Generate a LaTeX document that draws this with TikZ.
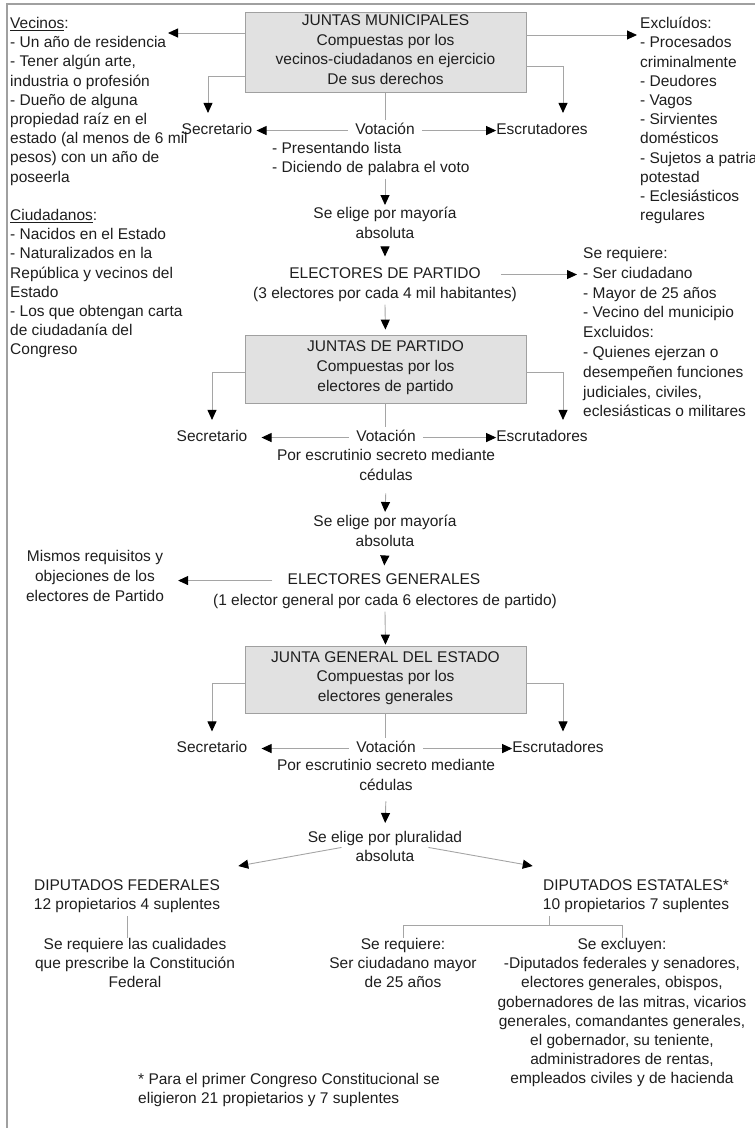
\documentclass[tikz,border=0pt]{standalone}
\usepackage{fontspec}
\setmainfont{Liberation Sans}
\usetikzlibrary{arrows.meta}
\definecolor{txtgray}{RGB}{30,30,30}
\definecolor{boxfill}{RGB}{225,225,225}
\definecolor{boxline}{RGB}{160,160,160}
\definecolor{linegray}{RGB}{165,165,165}
\newcommand{\diagfont}{\fontsize{15.5}{19.8}\selectfont}
\newcommand{\listfont}{\fontsize{15.5}{19.2}\selectfont}
\tikzset{
  txt/.style={font=\diagfont, text=txtgray, inner sep=0pt, align=center,
              execute at begin node=\strut},
  lst/.style={txt, align=left, anchor=north west},
  col/.style={txt, anchor=north},
  lbl/.style={txt, anchor=base},
  junta/.style={draw=boxline, fill=boxfill, line width=0.8pt, minimum width=281pt,
                align=center, font=\diagfont, text=txtgray, inner sep=0pt,
                execute at begin node=\strut},
  link/.style={draw=linegray, line width=0.9pt},
  arr/.style={link, -{Triangle[length=10pt, width=9pt, color=black]}},
  frame/.style={draw=boxline, line width=1.3pt}
}
\begin{document}
\begin{tikzpicture}[x=1pt, y=-1pt]
  \useasboundingbox (0,0) rectangle (755,1128);
  \draw[frame] (7,1128) -- (7,4) -- (755,4);

  % juntas municipales
  \node[junta, minimum height=80pt] (jm) at (385.5,52.5)
    {JUNTAS MUNICIPALES\\Compuestas por los\\vecinos-ciudadanos en ejercicio\\De sus derechos};
  \node[lst, font=\listfont] (vecinos) at (10,17) {\underline{Vecinos}:\\- Un año de residencia\\- Tener algún arte,\\industria o profesión\\- Dueño de alguna\\propiedad raíz en el\\estado (al menos de 6 mil\\pesos) con un año de\\poseerla};
  \node[lst, font=\listfont] (ciudad) at (10,209) {\underline{Ciudadanos}:\\- Nacidos en el Estado\\- Naturalizados en la\\República y vecinos del\\Estado\\- Los que obtengan carta\\de ciudadanía del\\Congreso};
  \node[lst, font=\listfont] (excl) at (640,17) {Excluídos:\\- Procesados\\criminalmente\\- Deudores\\- Vagos\\- Sirvientes\\domésticos\\- Sujetos a patria\\potestad\\- Eclesiásticos\\regulares};
  \coordinate (vectip) at (168,33);
  \coordinate (excltip) at (637,35);
  \node[lbl] (sec1) at (217,134.5) {Secretario};
  \node[lbl, inner xsep=7pt] (vot1) at (385,134.5) {Votación};
  \node[lbl] (esc1) at (542,134.5) {Escrutadores};
  \node[lst, font=\listfont] (modo1) at (272,142) {- Presentando lista\\- Diciendo de palabra el voto};
  \node[col] (elige1) at (385,207) {Se elige por mayoría\\absoluta};
  \node[lbl, inner xsep=20pt] (elecp) at (385,278.5) {ELECTORES DE PARTIDO};
  \node[lbl] (elecpn) at (385,298.5) {(3 electores por cada 4 mil habitantes)};
  \node[lst] (reqp) at (583,247) {Se requiere:\\- Ser ciudadano\\- Mayor de 25 años\\- Vecino del municipio\\Excluidos:\\- Quienes ejerzan o\\desempeñen funciones\\judiciales, civiles,\\eclesiásticas o militares};

  \draw[arr] (jm.west |- vectip) -- (vectip);
  \draw[arr] (jm.east |- excltip) -- (excltip);
  \draw[arr, shorten >=7.5pt] ([yshift=-64.5pt]jm.north west) -| ([xshift=-9pt]sec1.north);
  \draw[arr, shorten >=7.5pt] ([yshift=-54.5pt]jm.north east) -| ([xshift=21pt]esc1.north);
  \draw[link] (jm.south) -- (jm.south |- vot1.north);
  \draw[arr, shorten >=4pt] (vot1.west) -- (sec1.east);
  \draw[arr] (vot1.east) -- (esc1.west);
  \draw[arr, shorten >=2pt] (modo1.south -| elige1.north) -- (elige1.north);
  \draw[arr, shorten >=8pt, shorten <=4pt] (elige1.south) -- (elecp.north);
  \draw[arr, shorten >=6pt] (elecp.east) -- (elecp.east -| reqp.west);

  % juntas de partido
  \node[junta, minimum height=68pt] (jp) at (385.5,369)
    {JUNTAS DE PARTIDO\\Compuestas por los\\electores de partido};
  \node[lbl] (sec2) at (212,441.5) {Secretario};
  \node[lbl, inner xsep=7pt] (vot2) at (386,441.5) {Votación};
  \node[lbl] (esc2) at (542,441.5) {Escrutadores};
  \node[col] (escr2) at (386,449) {Por escrutinio secreto mediante\\cédulas};
  \node[col] (elige2) at (385,515) {Se elige por mayoría\\absoluta};
  \node[lbl, inner xsep=15pt] (elecg) at (384,584.5) {ELECTORES GENERALES};
  \node[lbl] (elecgn) at (385,605.5) {(1 elector general por cada 6 electores de partido)};
  \node[col] (mismos) at (95,550) {Mismos requisitos y\\objeciones de los\\electores de Partido};

  \draw[arr, shorten >=5pt] (elecpn.south) -- (jp.north);
  \draw[arr, shorten >=7.5pt] ([yshift=-38pt]jp.north west) -| (sec2.north);
  \draw[arr, shorten >=7.5pt] ([yshift=-38pt]jp.north east) -| ([xshift=21pt]esc2.north);
  \draw[link] (jp.south) -- (jp.south |- vot2.north);
  \draw[arr, shorten >=14pt] (vot2.west) -- (sec2.east);
  \draw[arr] (vot2.east) -- (esc2.west);
  \draw[arr, shorten >=3pt, shorten <=7pt] (escr2.south) -- (elige2.north);
  \draw[arr, shorten >=5pt, shorten <=3pt] (elige2.south) -- (elecg.north);
  \draw[arr, shorten >=14pt] (elecg.west) -- (elecg.west -| mismos.east);

  % junta general del estado
  \node[junta, minimum height=67pt] (jg) at (385.5,679.5)
    {JUNTA GENERAL DEL ESTADO\\Compuestas por los\\electores generales};
  \node[lbl] (sec3) at (212,752.5) {Secretario};
  \node[lbl, inner xsep=7pt] (vot3) at (386,752.5) {Votación};
  \node[lbl] (esc3) at (558,752.5) {Escrutadores};
  \node[col] (escr3) at (386,759) {Por escrutinio secreto mediante\\cédulas};
  \node[lbl] (plural) at (385,842) {Se elige por pluralidad};
  \node[lbl, inner xsep=14pt] (absol) at (385,861.5) {absoluta};

  \draw[arr, shorten >=1pt] (elecgn.south) -- (jg.north);
  \draw[arr, shorten >=7pt] ([yshift=-38pt]jg.north west) -| (sec3.north);
  \draw[arr, shorten >=7pt] ([yshift=-38pt]jg.north east) -| ([xshift=5pt]esc3.north);
  \draw[link] (jg.south) -- (jg.south |- vot3.north);
  \draw[arr, shorten >=14pt] (vot3.west) -- (sec3.east);
  \draw[arr] (vot3.east) -- (esc3.west);
  \draw[arr, shorten >=5pt, shorten <=5pt] (escr3.south) -- (plural.north);

  % diputados
  \node[col] (dipfed) at (127,879) {DIPUTADOS FEDERALES\\12 propietarios 4 suplentes};
  \node[col] (dipest) at (636,879) {DIPUTADOS ESTATALES*\\10 propietarios 7 suplentes};
  \node[col, font=\listfont] (fedreq) at (135,938) {Se requiere las cualidades\\que prescribe la Constitución\\Federal};
  \node[col, font=\listfont] (estreq) at (403,938) {Se requiere:\\Ser ciudadano mayor\\de 25 años};
  \node[col, font=\listfont] (estexc) at (622,938) {Se excluyen:\\-Diputados federales y senadores,\\electores generales, obispos,\\gobernadores de las mitras, vicarios\\generales, comandantes generales,\\el gobernador, su teniente,\\administradores de rentas,\\empleados civiles y de hacienda};
  \node[lst, font=\listfont] (nota) at (138,1073) {* Para el primer Congreso Constitucional se\\eligieron 21 propietarios y 7 suplentes};

  \draw[arr] (absol.north west) -- ([shift={(18pt,13pt)}]dipfed.north east);
  \draw[arr] (absol.north east) -- ([shift={(-10pt,13pt)}]dipest.north west);
  \draw[link] (dipfed.south) -- (dipfed.south |- fedreq.north);
  \draw[link] ([xshift=7pt]dipest.south west) -- ++(0,9) coordinate (brk);
  \draw[link] (estreq.north) |- (brk) -| (estexc.north);
\end{tikzpicture}
\end{document}
